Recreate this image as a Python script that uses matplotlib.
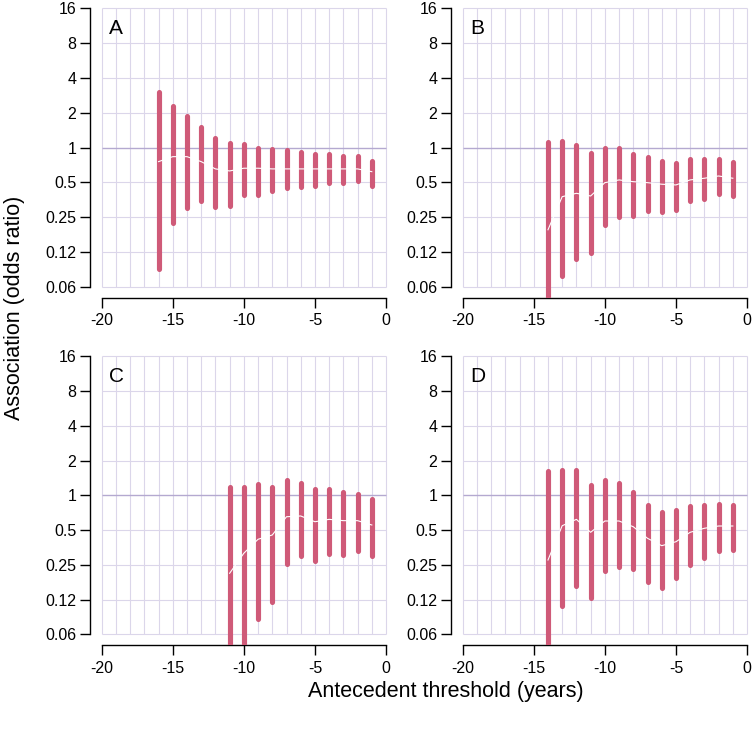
import numpy as np
import matplotlib
matplotlib.use("Agg")
import matplotlib.pyplot as plt

plt.rcParams['font.family'] = ['Liberation Sans', 'DejaVu Sans']

# ---- data ----
years_A = [-16, -15, -14, -13, -12, -11, -10, -9, -8, -7, -6, -5, -4, -3, -2, -1]
A_lo = [0.089, 0.223, 0.298, 0.348, 0.308, 0.316, 0.386, 0.392, 0.424, 0.444, 0.459, 0.469, 0.494, 0.494, 0.513, 0.469]
A_hi = [3.0, 2.27, 1.89, 1.50, 1.22, 1.10, 1.08, 1.0, 0.98, 0.95, 0.91, 0.886, 0.88, 0.845, 0.845, 0.76]
A_est = [0.757, 0.836, 0.836, 0.757, 0.655, 0.629, 0.664, 0.664, 0.655, 0.655, 0.655, 0.655, 0.655, 0.655, 0.655, 0.62]

years_B = [-14, -13, -12, -11, -10, -9, -8, -7, -6, -5, -4, -3, -2, -1]
B_lo = [0.02, 0.078, 0.109, 0.122, 0.214, 0.254, 0.258, 0.283, 0.279, 0.291, 0.345, 0.362, 0.394, 0.379]
B_hi = [1.11, 1.15, 1.05, 0.896, 0.99, 0.99, 0.878, 0.834, 0.764, 0.741, 0.796, 0.79, 0.80, 0.755]
B_est = [0.195, 0.377, 0.403, 0.382, 0.498, 0.526, 0.508, 0.498, 0.483, 0.476, 0.526, 0.544, 0.569, 0.544]

years_C = [-11, -10, -9, -8, -7, -6, -5, -4, -3, -2, -1]
C_lo = [0.02, 0.02, 0.0844, 0.12, 0.253, 0.299, 0.267, 0.309, 0.305, 0.33, 0.299]
C_hi = [1.19, 1.19, 1.26, 1.185, 1.36, 1.29, 1.13, 1.14, 1.06, 1.03, 0.925]
C_est = [0.211, 0.315, 0.416, 0.453, 0.652, 0.662, 0.59, 0.619, 0.603, 0.603, 0.553]

years_D = [-14, -13, -12, -11, -10, -9, -8, -7, -6, -5, -4, -3, -2, -1]
D_lo = [0.02, 0.11, 0.165, 0.128, 0.222, 0.237, 0.228, 0.179, 0.156, 0.193, 0.25, 0.289, 0.326, 0.335]
D_hi = [1.61, 1.66, 1.66, 1.24, 1.36, 1.27, 1.06, 0.832, 0.714, 0.743, 0.804, 0.832, 0.844, 0.82]
D_est = [0.275, 0.545, 0.619, 0.478, 0.599, 0.599, 0.534, 0.424, 0.366, 0.396, 0.478, 0.518, 0.542, 0.542]

panel_labels = ['A', 'B', 'C', 'D']
y_ticks = [16, 8, 4, 2, 1, 0.5, 0.25, 0.125, 0.0625]
y_ticklabels = ['16', '8', '4', '2', '1', '0.5', '0.25', '0.12', '0.06']
x_ticks = [-20, -15, -10, -5, 0]
x_ticklabels = ['-20', '-15', '-10', '-5', '0']

panels = [
    (years_A, A_lo, A_hi, A_est),
    (years_B, B_lo, B_hi, B_est),
    (years_C, C_lo, C_hi, C_est),
    (years_D, D_lo, D_hi, D_est),
]

W, H = 752, 735
fig = plt.figure(figsize=(W / 100, H / 100), dpi=100)

# axes rectangles in pixels (left, top, right, bottom) of the plot region
rects_px = [
    (90.3, -2.8, 397.4, 298.1),
    (451.3, -2.8, 758.4, 298.1),
    (90.3, 345.2, 397.4, 645.4),
    (451.3, 345.2, 758.4, 645.4),
]

bar_color = '#cf5a78'
grid_color = '#dbd6ea'
one_color = '#b4a9d0'

xmin, xmax = -20, 0
ymin, ymax = 1 / 16, 16
xpad = 0.04 * (xmax - xmin)
lpad = 0.04 * (np.log2(ymax) - np.log2(ymin))

for i, ((yrs, lo, hi, est), (l, t, r, b)) in enumerate(zip(panels, rects_px)):
    ax = fig.add_axes([l / W, 1 - b / H, (r - l) / W, (b - t) / H])
    ax.set_yscale('log', base=2)
    ax.set_xlim(xmin - xpad, xmax + xpad)
    ax.set_ylim(2 ** (np.log2(ymin) - lpad), 2 ** (np.log2(ymax) + lpad))
    ax.patch.set_visible(False)

    # grid
    for gx in range(xmin, xmax + 1):
        ax.plot([gx, gx], [ymin, ymax], color=grid_color, lw=0.8, zorder=1,
                solid_capstyle='butt')
    for gy in y_ticks:
        c = one_color if gy == 1 else grid_color
        ax.plot([xmin, xmax], [gy, gy], color=c, lw=0.8 if gy != 1 else 1.0,
                zorder=1.5 if gy == 1 else 1, solid_capstyle='butt')

    # interval bars
    ax.vlines(yrs, lo, hi, colors=bar_color, lw=3.7, zorder=3,
              capstyle='round')
    # point estimate line
    ax.plot(yrs, est, color='white', lw=0.8, zorder=4)

    ax.text(-19.5, 2 ** 3.26, panel_labels[i], fontsize=15, ha='left',
            va='baseline', zorder=5)

    for s in ['top', 'right']:
        ax.spines[s].set_visible(False)
    ax.spines['left'].set_bounds(ymin, ymax)
    ax.spines['bottom'].set_bounds(xmin, xmax)
    ax.spines['left'].set_linewidth(1.0)
    ax.spines['bottom'].set_linewidth(1.0)

    ax.set_yticks(y_ticks)
    ax.set_yticklabels(y_ticklabels)
    ax.yaxis.set_minor_locator(matplotlib.ticker.NullLocator())
    ax.set_xticks(x_ticks)
    ax.set_xticklabels(x_ticklabels)
    ax.tick_params(axis='both', direction='out', length=7, width=1.0,
                   labelsize=11.5)
    ax.tick_params(axis='x', pad=4)
    ax.tick_params(axis='y', pad=3)

fig.text(15 / W, 1 - 308 / H, 'Association (odds ratio)', rotation=90,
         ha='center', va='center', fontsize=15.5)
fig.text(446 / W, 1 - 692 / H, 'Antecedent threshold (years)',
         ha='center', va='center', fontsize=15.5)

fig.savefig('out.png', dpi=100)
